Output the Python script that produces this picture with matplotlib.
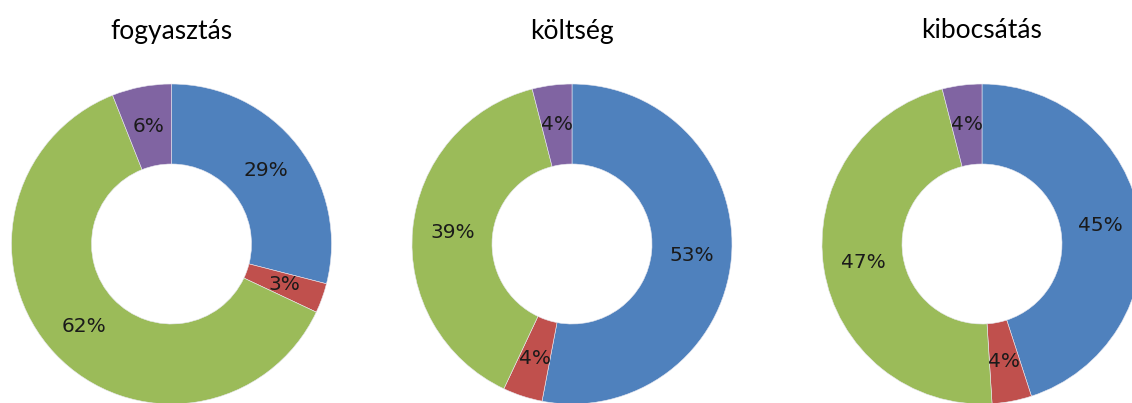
import matplotlib
matplotlib.use("Agg")
import matplotlib.pyplot as plt

W, H = 1132, 403

titles = ["fogyasztás", "költség", "kibocsátás"]
fogyasztas = [29, 3, 62, 6]
koltseg = [53, 4, 39, 4]
kibocsatas = [45, 4, 47, 4]
series = [fogyasztas, koltseg, kibocsatas]
colors = ["#4F81BD", "#C0504D", "#9BBB59", "#8064A2"]

centers_px = [(171.5, 244), (572, 244), (982, 244)]
r_out = 160
r_in = 80

fig = plt.figure(figsize=(W / 100, H / 100), dpi=100)
ax = fig.add_axes([0, 0, 1, 1])

for title, vals, (cx, cy) in zip(titles, series, centers_px):
    ax.pie(vals, colors=colors, startangle=90, counterclock=False,
           center=(cx, H - cy), radius=r_out,
           wedgeprops=dict(width=r_out - r_in, edgecolor="#e8e8f0", linewidth=0.4),
           autopct=lambda p: f"{p:.0f}%", pctdistance=(r_out + r_in) / 2 / r_out,
           textprops=dict(fontsize=14.5, family="DejaVu Sans", color="#1a1a1a"),
           frame=True)
    ax.text(cx, H - 31, title, ha="center", va="center",
            fontsize=19, family="Lato", color="black")

ax.set_xlim(0, W)
ax.set_ylim(0, H)
ax.set_aspect("equal")
ax.axis("off")

fig.savefig("out.png", dpi=100)
